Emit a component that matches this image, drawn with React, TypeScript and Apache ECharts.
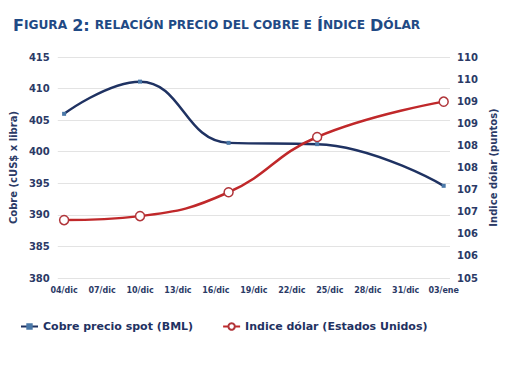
import React, { useEffect, useRef } from "react";
import * as echarts from "echarts";

const tickLabels = ["04/dic", "07/dic", "10/dic", "13/dic", "16/dic", "19/dic", "22/dic", "25/dic", "28/dic", "31/dic", "03/ene"];
const tickDays = [0, 3, 6, 9, 12, 15, 18, 21, 24, 27, 30];
const pointDays = [0, 6, 13, 20, 30];
const cobre = [406.0, 411.1, 401.4, 401.2, 394.6];
const dolar = [106.31, 106.4, 106.94, 108.19, 108.99];

const NAVY = "#1F3262";
const TXT = "#2B3A66";
const FONT = "DejaVu Sans";

export default function App() {
  const ref = useRef<HTMLDivElement>(null);
  useEffect(() => {
    if (!ref.current) return;
    const chart = echarts.init(ref.current, null, { renderer: "svg" });
    chart.setOption({
      animation: false,
      backgroundColor: "#fff",
      title: {
        left: 8,
        top: 11,
        text: "{b|F}{s|IGURA} {b|2:} {s|RELACIÓN PRECIO DEL COBRE E} {b|Í}{s|NDICE} {b|D}{s|ÓLAR}",
        textStyle: {
          rich: {
            b: { fontFamily: FONT, fontWeight: "bold", fontSize: 16, color: "#1F4A85" },
            s: { fontFamily: FONT, fontWeight: "bold", fontSize: 12.2, color: "#1F4A85" },
          },
        },
      },
      grid: { left: 48, right: 60, top: 57, bottom: 104 },
      legend: {
        left: 15,
        top: 316,
        itemWidth: 17,
        itemHeight: 8,
        itemGap: 29,
        textStyle: { fontFamily: FONT, fontWeight: "bold", fontSize: 11, color: NAVY },
        data: ["Cobre precio spot (BML)", "Indice dólar (Estados Unidos)"],
      },
      xAxis: {
        type: "value",
        min: -0.5,
        max: 30.5,
        splitLine: { show: false },
        axisTick: { show: false },
        axisLine: { show: false },
        axisLabel: {
          customValues: tickDays,
          formatter: (v: number) => tickLabels[Math.round(v / 3)] ?? "",
          fontFamily: FONT,
          fontWeight: "bold",
          fontSize: 8,
          color: TXT,
          margin: 8,
        },
      },
      yAxis: [
        {
          type: "value",
          min: 380,
          max: 415,
          interval: 5,
          name: "Cobre (cUS$ x libra)",
          nameLocation: "middle",
          nameGap: 37,
          nameTextStyle: { fontFamily: FONT, fontWeight: "bold", fontSize: 10, color: TXT },
          axisLine: { show: false },
          axisTick: { show: false },
          splitLine: { lineStyle: { color: "#E3E3E3", width: 1 } },
          axisLabel: { fontFamily: FONT, fontWeight: "bold", fontSize: 10, color: TXT, margin: 8 },
        },
        {
          type: "value",
          min: 105,
          max: 110,
          interval: 0.5,
          name: "Indice dólar (puntos)",
          nameLocation: "middle",
          nameGap: 37,
          nameRotate: 90,
          nameTextStyle: { fontFamily: FONT, fontWeight: "bold", fontSize: 10, color: TXT },
          axisLine: { show: false },
          axisTick: { show: false },
          splitLine: { show: false },
          axisLabel: {
            fontFamily: FONT,
            fontWeight: "bold",
            fontSize: 10,
            color: TXT,
            margin: 7,
            formatter: (v: number) => String(Math.round(v)),
          },
        },
      ],
      series: [
        {
          name: "Cobre precio spot (BML)",
          type: "line",
          yAxisIndex: 0,
          smooth: 0.45,
          data: pointDays.map((d, i) => [d, cobre[i]]),
          lineStyle: { color: NAVY, width: 2.5 },
          itemStyle: { color: "#4A78A8" },
          symbol: "rect",
          symbolSize: 4,
        },
        {
          name: "Indice dólar (Estados Unidos)",
          type: "line",
          yAxisIndex: 1,
          smooth: 0.45,
          data: pointDays.map((d, i) => [d, dolar[i]]),
          lineStyle: { color: "#C0282A", width: 2.5 },
          itemStyle: { color: "#fff", borderColor: "#B0353A", borderWidth: 1.5 },
          symbol: "circle",
          symbolSize: 9,
        },
      ],
    });
    return () => chart.dispose();
  }, []);
  return <div ref={ref} style={{ position: "fixed", left: 0, top: 0, width: 510, height: 382 }} />;
}
